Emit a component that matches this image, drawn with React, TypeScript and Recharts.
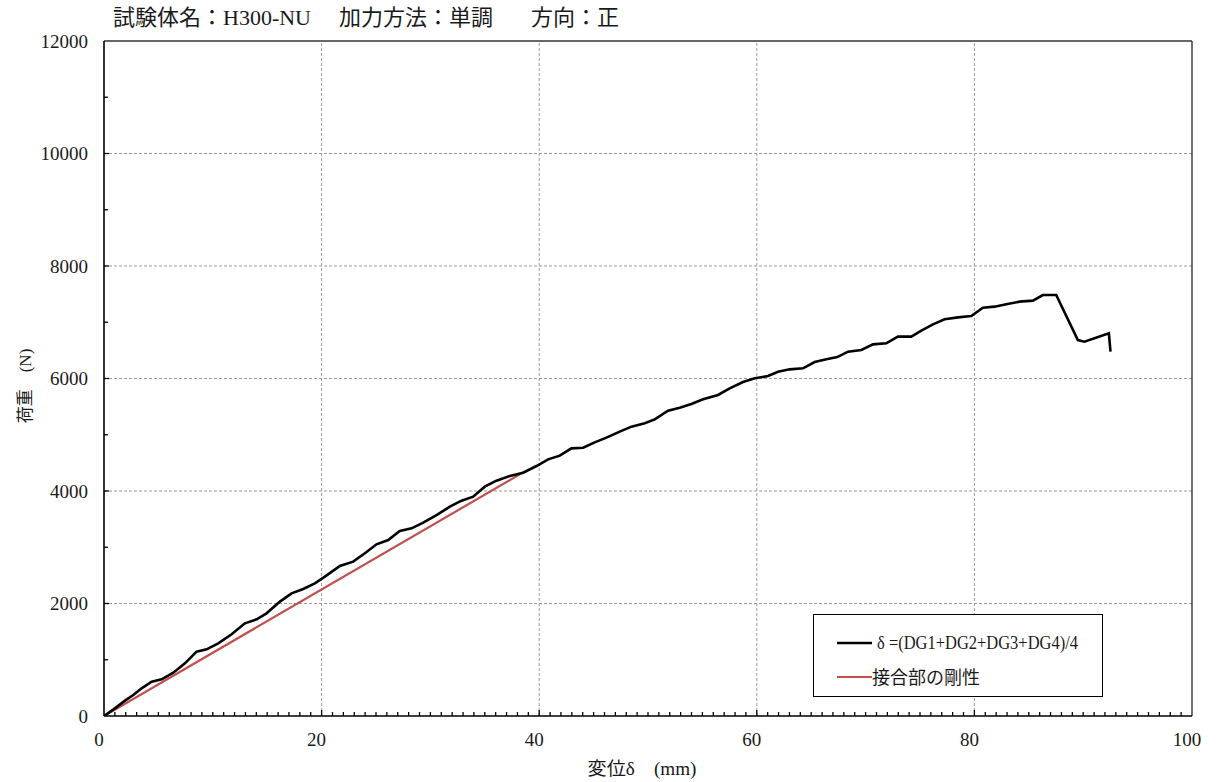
import React from "react";
import { LineChart, Line, XAxis, YAxis, ReferenceLine, Legend } from "recharts";

// ---- data ----
const dispValues: number[] = [
  0, 1.0, 1.93, 2.69, 3.46, 4.38, 5.3, 6.37, 7.44, 8.51, 9.43, 10.5, 11.73, 12.95, 14.03, 14.94,
  16.17, 17.24, 18.31, 19.38, 20.3, 21.68, 22.9, 23.98, 25.05, 26.12, 27.19, 28.27, 29.34, 30.56,
  31.79, 32.86, 33.93, 35.0, 36.07, 37.3, 38.52, 39.75, 40.82, 41.89, 42.96, 44.04, 45.1, 46.18,
  47.4, 48.48, 49.7, 50.62, 51.84, 52.92, 53.99, 55.06, 56.44, 57.51, 58.73, 59.81, 61.03, 61.95,
  63.02, 64.25, 65.32, 66.39, 67.4, 68.38, 69.61, 70.68, 71.9, 72.97, 74.2, 75.12, 76.19, 77.26,
  78.48, 79.71, 80.78, 81.85, 82.93, 84.15, 85.38, 86.29, 87.52, 89.51, 90.12, 92.36, 92.51,
];
const loadValues: number[] = [
  0, 136, 273, 373, 492, 610, 652, 770, 936, 1144, 1185, 1292, 1452, 1647, 1719, 1825,
  2033, 2181, 2258, 2359, 2477, 2667, 2744, 2892, 3052, 3129, 3289, 3336, 3437, 3573,
  3721, 3828, 3899, 4077, 4184, 4267, 4326, 4444, 4563, 4628, 4758, 4770, 4865, 4948,
  5055, 5144, 5203, 5274, 5428, 5481, 5547, 5630, 5707, 5825, 5938, 6003, 6044, 6121,
  6163, 6181, 6293, 6341, 6380, 6477, 6507, 6607, 6625, 6744, 6744, 6850, 6963, 7052,
  7087, 7111, 7259, 7277, 7319, 7366, 7384, 7484, 7484, 6684, 6654, 6803, 6477,
];
const stiffDisp: number[] = [0, 38.6];
const stiffLoad: number[] = [0, 4340];

const xTicks: number[] = Array.from({ length: 101 }, (_, i) => i);
const yTicks: number[] = Array.from({ length: 13 }, (_, i) => i * 1000);
const xGrid: number[] = [20, 40, 60, 80];
const yGrid: number[] = [2000, 4000, 6000, 8000, 10000];

const titleParts: string[] = ["試験体名：H300-NU", "加力方法：単調", "方向：正"];
const seriesNames: string[] = ["δ =(DG1+DG2+DG3+DG4)/4", "接合部の剛性"];
const xTitle = "変位δ　(mm)";
const yTitle = "荷重　(N)";

const mainData = dispValues.map((d, i) => ({ x: d, y: loadValues[i] }));
const stiffData = stiffDisp.map((d, i) => ({ x: d, y: stiffLoad[i] }));

const FONT = "'Liberation Serif', 'Noto Sans CJK JP', serif";
const TXT = "#1a1a1a";

const XTick = (props: any) => {
  const { x, y, payload } = props;
  const v = payload.value;
  const major = v % 20 === 0;
  return (
    <g>
      {v !== 0 && v !== 100 && (
        <line x1={x} x2={x} y1={y} y2={y - (major ? 6 : 4)} stroke="#000" strokeWidth={1.3} />
      )}
      {major && (
        <text x={x - 5} y={y + 30} textAnchor="middle" fontSize={19} fontFamily={FONT} fill={TXT}>
          {v}
        </text>
      )}
    </g>
  );
};

const YTick = (props: any) => {
  const { x, y, payload } = props;
  const v = payload.value;
  const major = v % 2000 === 0;
  return (
    <g>
      {v !== 0 && v !== 12000 && (
        <line x1={x} x2={x + (major ? 5 : 4)} y1={y} y2={y} stroke="#000" strokeWidth={1.3} />
      )}
      {major && (
        <text x={x - 16} y={y} dy="0.35em" textAnchor="end" fontSize={19} fontFamily={FONT} fill={TXT}>
          {v}
        </text>
      )}
    </g>
  );
};

const renderLegend = () => (
  <div
    style={{
      width: 290,
      height: 83,
      boxSizing: "border-box",
      border: "1.5px solid #000",
      background: "#fff",
    }}
  >
    <svg width={287} height={80} style={{ display: "block" }}>
      <line x1={23} x2={58} y1={28} y2={28} stroke="#000" strokeWidth={2.6} />
      <text x={63} y={34} fontSize={18} fontFamily={FONT} fill={TXT} textLength={201} lengthAdjust="spacingAndGlyphs">
        {seriesNames[0]}
      </text>
      <line x1={23} x2={58} y1={62} y2={62} stroke="#C0504D" strokeWidth={2.2} />
      <text x={58} y={69} fontSize={18} fontFamily={FONT} fill={TXT}>
        {seriesNames[1]}
      </text>
    </svg>
  </div>
);

export default function App() {
  return (
    <div style={{ position: "absolute", left: 0, top: 0, width: 1216, height: 782, background: "#fff" }}>
      <LineChart width={1216} height={782} margin={{ top: 41, right: 24, bottom: 0, left: 0 }}>
        <XAxis
          dataKey="x"
          type="number"
          domain={[0, 100]}
          ticks={xTicks}
          interval={0}
          height={66}
          tickLine={false}
          tickSize={0}
          tickMargin={0}
          tick={<XTick />}
          axisLine={{ stroke: "#000", strokeWidth: 1.6 }}
          allowDataOverflow
        />
        <YAxis
          dataKey="y"
          type="number"
          domain={[0, 12000]}
          ticks={yTicks}
          interval={0}
          width={104}
          tickLine={false}
          tickSize={0}
          tickMargin={0}
          tick={<YTick />}
          axisLine={{ stroke: "#000", strokeWidth: 1.6 }}
          allowDataOverflow
        />
        {xGrid.map((g) => (
          <ReferenceLine key={"vx" + g} x={g} stroke="#9a9a9a" strokeDasharray="3 2" strokeWidth={1} />
        ))}
        {yGrid.map((g) => (
          <ReferenceLine key={"hy" + g} y={g} stroke="#9a9a9a" strokeDasharray="3 2" strokeWidth={1} />
        ))}
        <ReferenceLine y={12000} stroke="#333" strokeWidth={1.4} />
        <ReferenceLine x={100} stroke="#333" strokeWidth={1.4} />
        <Line
          data={stiffData}
          dataKey="y"
          type="linear"
          stroke="#C0504D"
          strokeWidth={2.2}
          dot={false}
          isAnimationActive={false}
          name={seriesNames[1]}
        />
        <Line
          data={mainData}
          dataKey="y"
          type="linear"
          stroke="#000"
          strokeWidth={2.6}
          dot={false}
          isAnimationActive={false}
          name={seriesNames[0]}
        />
        <Legend
          layout="vertical"
          align="center"
          verticalAlign="middle"
          content={renderLegend}
          wrapperStyle={{ left: 813, top: 614, width: 290, height: 83 }}
        />
      </LineChart>
      <svg
        width={1216}
        height={782}
        style={{ position: "absolute", left: 0, top: 0, pointerEvents: "none" }}
      >
        <text y={25} fontSize={22} fontFamily={FONT} fill={TXT}>
          <tspan x={113}>{titleParts[0]}</tspan>
          <tspan x={339}>{titleParts[1]}</tspan>
          <tspan x={531}>{titleParts[2]}</tspan>
        </text>
        <text x={642} y={775} textAnchor="middle" fontSize={18} fontFamily={FONT} fill={TXT} textLength={109} lengthAdjust="spacingAndGlyphs">
          {xTitle}
        </text>
        <text
          transform="translate(25,386) rotate(-90)"
          textAnchor="middle"
          dy="0.35em"
          fontSize={17}
          fontFamily={FONT}
          fill={TXT}
        >
          {yTitle}
        </text>
      </svg>
    </div>
  );
}
